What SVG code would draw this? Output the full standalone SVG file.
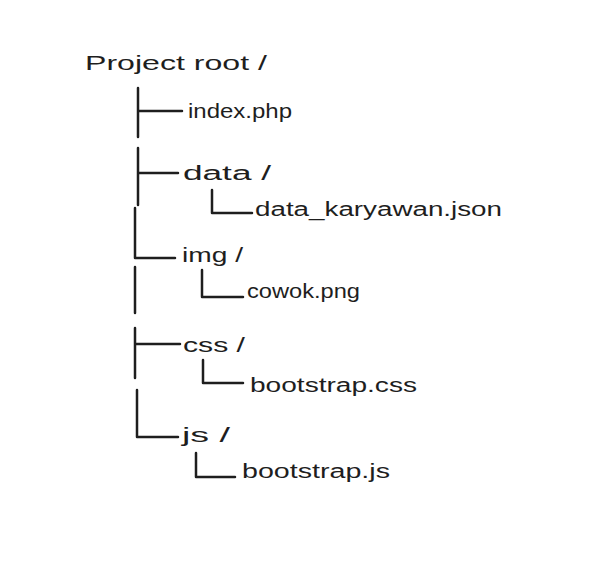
<svg xmlns="http://www.w3.org/2000/svg" width="606" height="581" viewBox="0 0 606 581">
<style>
.t{font-family:"Liberation Sans","DejaVu Sans",sans-serif;font-size:20px;fill:#1e1e1e;}
.c{fill:none;stroke:#1e1e1e;stroke-width:2.5;stroke-linecap:round;stroke-linejoin:round;}
</style>
<rect width="606" height="581" fill="#ffffff"/>
<g id="connectors">
<path class="c" d="M138 88 V137 M138 111 H182"/>
<path class="c" d="M138 148 V205 M138 173 H178"/>
<path class="c" d="M212 190 V213 H252"/>
<path class="c" d="M135 208 V258 H175"/>
<path class="c" d="M202 270 V297 H243"/>
<path class="c" d="M135 267 V313"/>
<path class="c" d="M135 328 V378 M135 344 H180"/>
<path class="c" d="M203 360 V383 H243"/>
<path class="c" d="M137 390 V437 H178"/>
<path class="c" d="M196 453 V477 H235"/>
</g>
<g id="root"><text class="t" x="85" y="70" textLength="182" lengthAdjust="spacingAndGlyphs">Project root /</text></g>
<g id="index"><text class="t" x="188" y="118" textLength="104" lengthAdjust="spacingAndGlyphs">index.php</text></g>
<g id="data"><text class="t" x="183" y="180" textLength="88" lengthAdjust="spacingAndGlyphs">data /</text></g>
<g id="json"><text class="t" x="255" y="216" textLength="247" lengthAdjust="spacingAndGlyphs">data_karyawan.json</text></g>
<g id="img"><text class="t" x="182" y="262" textLength="61" lengthAdjust="spacingAndGlyphs">img /</text></g>
<g id="cowok"><text class="t" x="247" y="298" textLength="113" lengthAdjust="spacingAndGlyphs">cowok.png</text></g>
<g id="css"><text class="t" x="183" y="352" textLength="62" lengthAdjust="spacingAndGlyphs">css /</text></g>
<g id="bootstrapcss"><text class="t" x="250" y="392" textLength="167" lengthAdjust="spacingAndGlyphs">bootstrap.css</text></g>
<g id="js"><text class="t" x="182" y="442" textLength="48" lengthAdjust="spacingAndGlyphs">js /</text></g>
<g id="bootstrapjs"><text class="t" x="242" y="478" textLength="148" lengthAdjust="spacingAndGlyphs">bootstrap.js</text></g>
</svg>
